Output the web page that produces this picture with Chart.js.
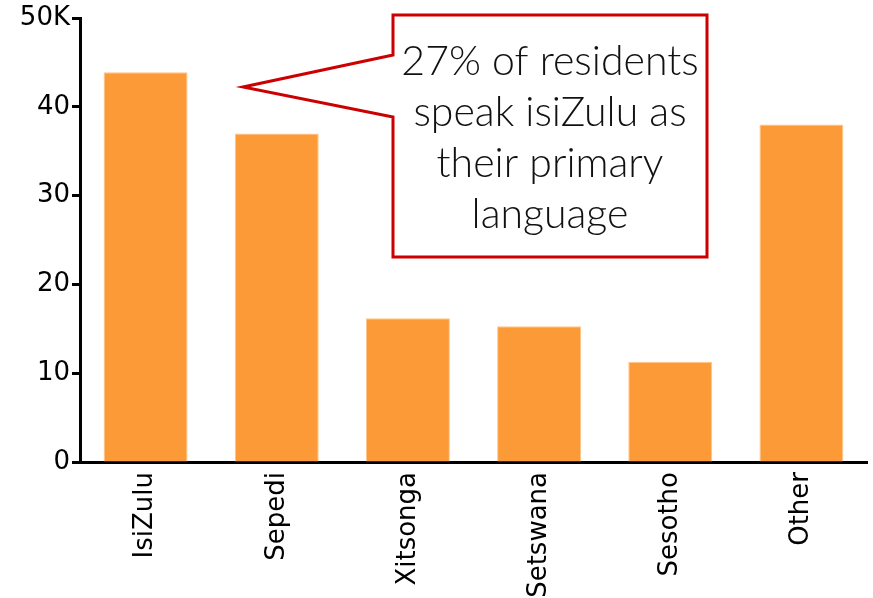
<!DOCTYPE html>
<html>
<head>
<meta charset="utf-8">
<script src="https://cdn.jsdelivr.net/npm/chart.js@4.4.1/dist/chart.umd.min.js"></script>
<style>
  body { margin: 0; background: #fff; }
  #wrap { width: 873px; height: 598px; }
</style>
</head>
<body>
<div id="wrap"><canvas id="canvasIdiomas" width="873" height="598"></canvas></div>
<script>
var idiomas = ['IsiZulu', 'Sepedi', 'Xitsonga', 'Setswana', 'Sesotho', 'Other'];
var hablantes = [43900, 37000, 16200, 15300, 11300, 38000];
var marcasY = [0, 10000, 20000, 30000, 40000, 50000];
var textoNota = ['27% of residents', 'speak isiZulu as', 'their primary', 'language'];

// globo rojo con la nota, dibujado encima del grafico
var notaPlugin = {
    id: 'nota',
    afterDraw: function (chart) {
        let ctx = chart.ctx;
        let a = chart.chartArea;
        let x0 = a.left + 313, x1 = a.left + 627;
        let y0 = a.top - 3, y1 = a.top + 239;
        let tipX = a.left + 163, tipY = a.top + 69;
        ctx.save();
        ctx.beginPath();
        ctx.moveTo(x0, y0);
        ctx.lineTo(x1, y0);
        ctx.lineTo(x1, y1);
        ctx.lineTo(x0, y1);
        ctx.lineTo(x0, a.top + 99);
        ctx.lineTo(tipX, tipY);
        ctx.lineTo(x0, a.top + 37);
        ctx.closePath();
        ctx.fillStyle = '#ffffff';
        ctx.fill();
        ctx.strokeStyle = '#cc0000';
        ctx.lineWidth = 3;
        ctx.lineJoin = 'miter';
        ctx.stroke();
        ctx.fillStyle = '#111111';
        ctx.font = '300 41px Lato, "Open Sans", sans-serif';
        ctx.textAlign = 'center';
        ctx.textBaseline = 'alphabetic';
        for (let i = 0; i < textoNota.length; i++) {
            ctx.fillText(textoNota[i], (x0 + x1) / 2, a.top + 57 + i * 51);
        }
        ctx.restore();
    }
};

var ctx = document.getElementById('canvasIdiomas').getContext('2d');
var chartIdiomas = new Chart(ctx, {
    type: 'bar',
    data: {
        labels: idiomas,
        datasets: [{
            label: 'Residents',
            data: hablantes,
            backgroundColor: '#fd9a38',
            borderColor: '#ffc58a',
            borderWidth: 1,
            categoryPercentage: 0.64,
            barPercentage: 1
        }]
    },
    options: {
        responsive: false,
        animation: false,
        layout: { padding: { top: 18, right: 6, left: 0, bottom: 0 } },
        plugins: {
            legend: { display: false },
            tooltip: { enabled: false }
        },
        scales: {
            x: {
                grid: { display: false },
                border: { display: true, color: '#000', width: 3 },
                ticks: {
                    color: '#000',
                    font: { family: '"DejaVu Sans"', size: 26 },
                    minRotation: 90,
                    maxRotation: 90,
                    padding: 2
                },
                afterFit: function (scale) { scale.height = 136; }
            },
            y: {
                min: 0,
                max: 50000,
                afterBuildTicks: function (scale) {
                    scale.ticks = marcasY.map(function (v) { return { value: v }; });
                },
                grid: {
                    display: true,
                    drawOnChartArea: false,
                    drawTicks: true,
                    tickLength: 8,
                    tickColor: '#000',
                    tickWidth: 3
                },
                border: { display: true, color: '#000', width: 3 },
                ticks: {
                    color: '#000',
                    font: { family: '"DejaVu Sans"', size: 26 },
                    padding: 2,
                    callback: function (v) {
                        return v === 50000 ? '50K' : String(v / 1000);
                    }
                },
                afterFit: function (scale) { scale.width = 80; }
            }
        }
    },
    plugins: [notaPlugin]
});
</script>
</body>
</html>
